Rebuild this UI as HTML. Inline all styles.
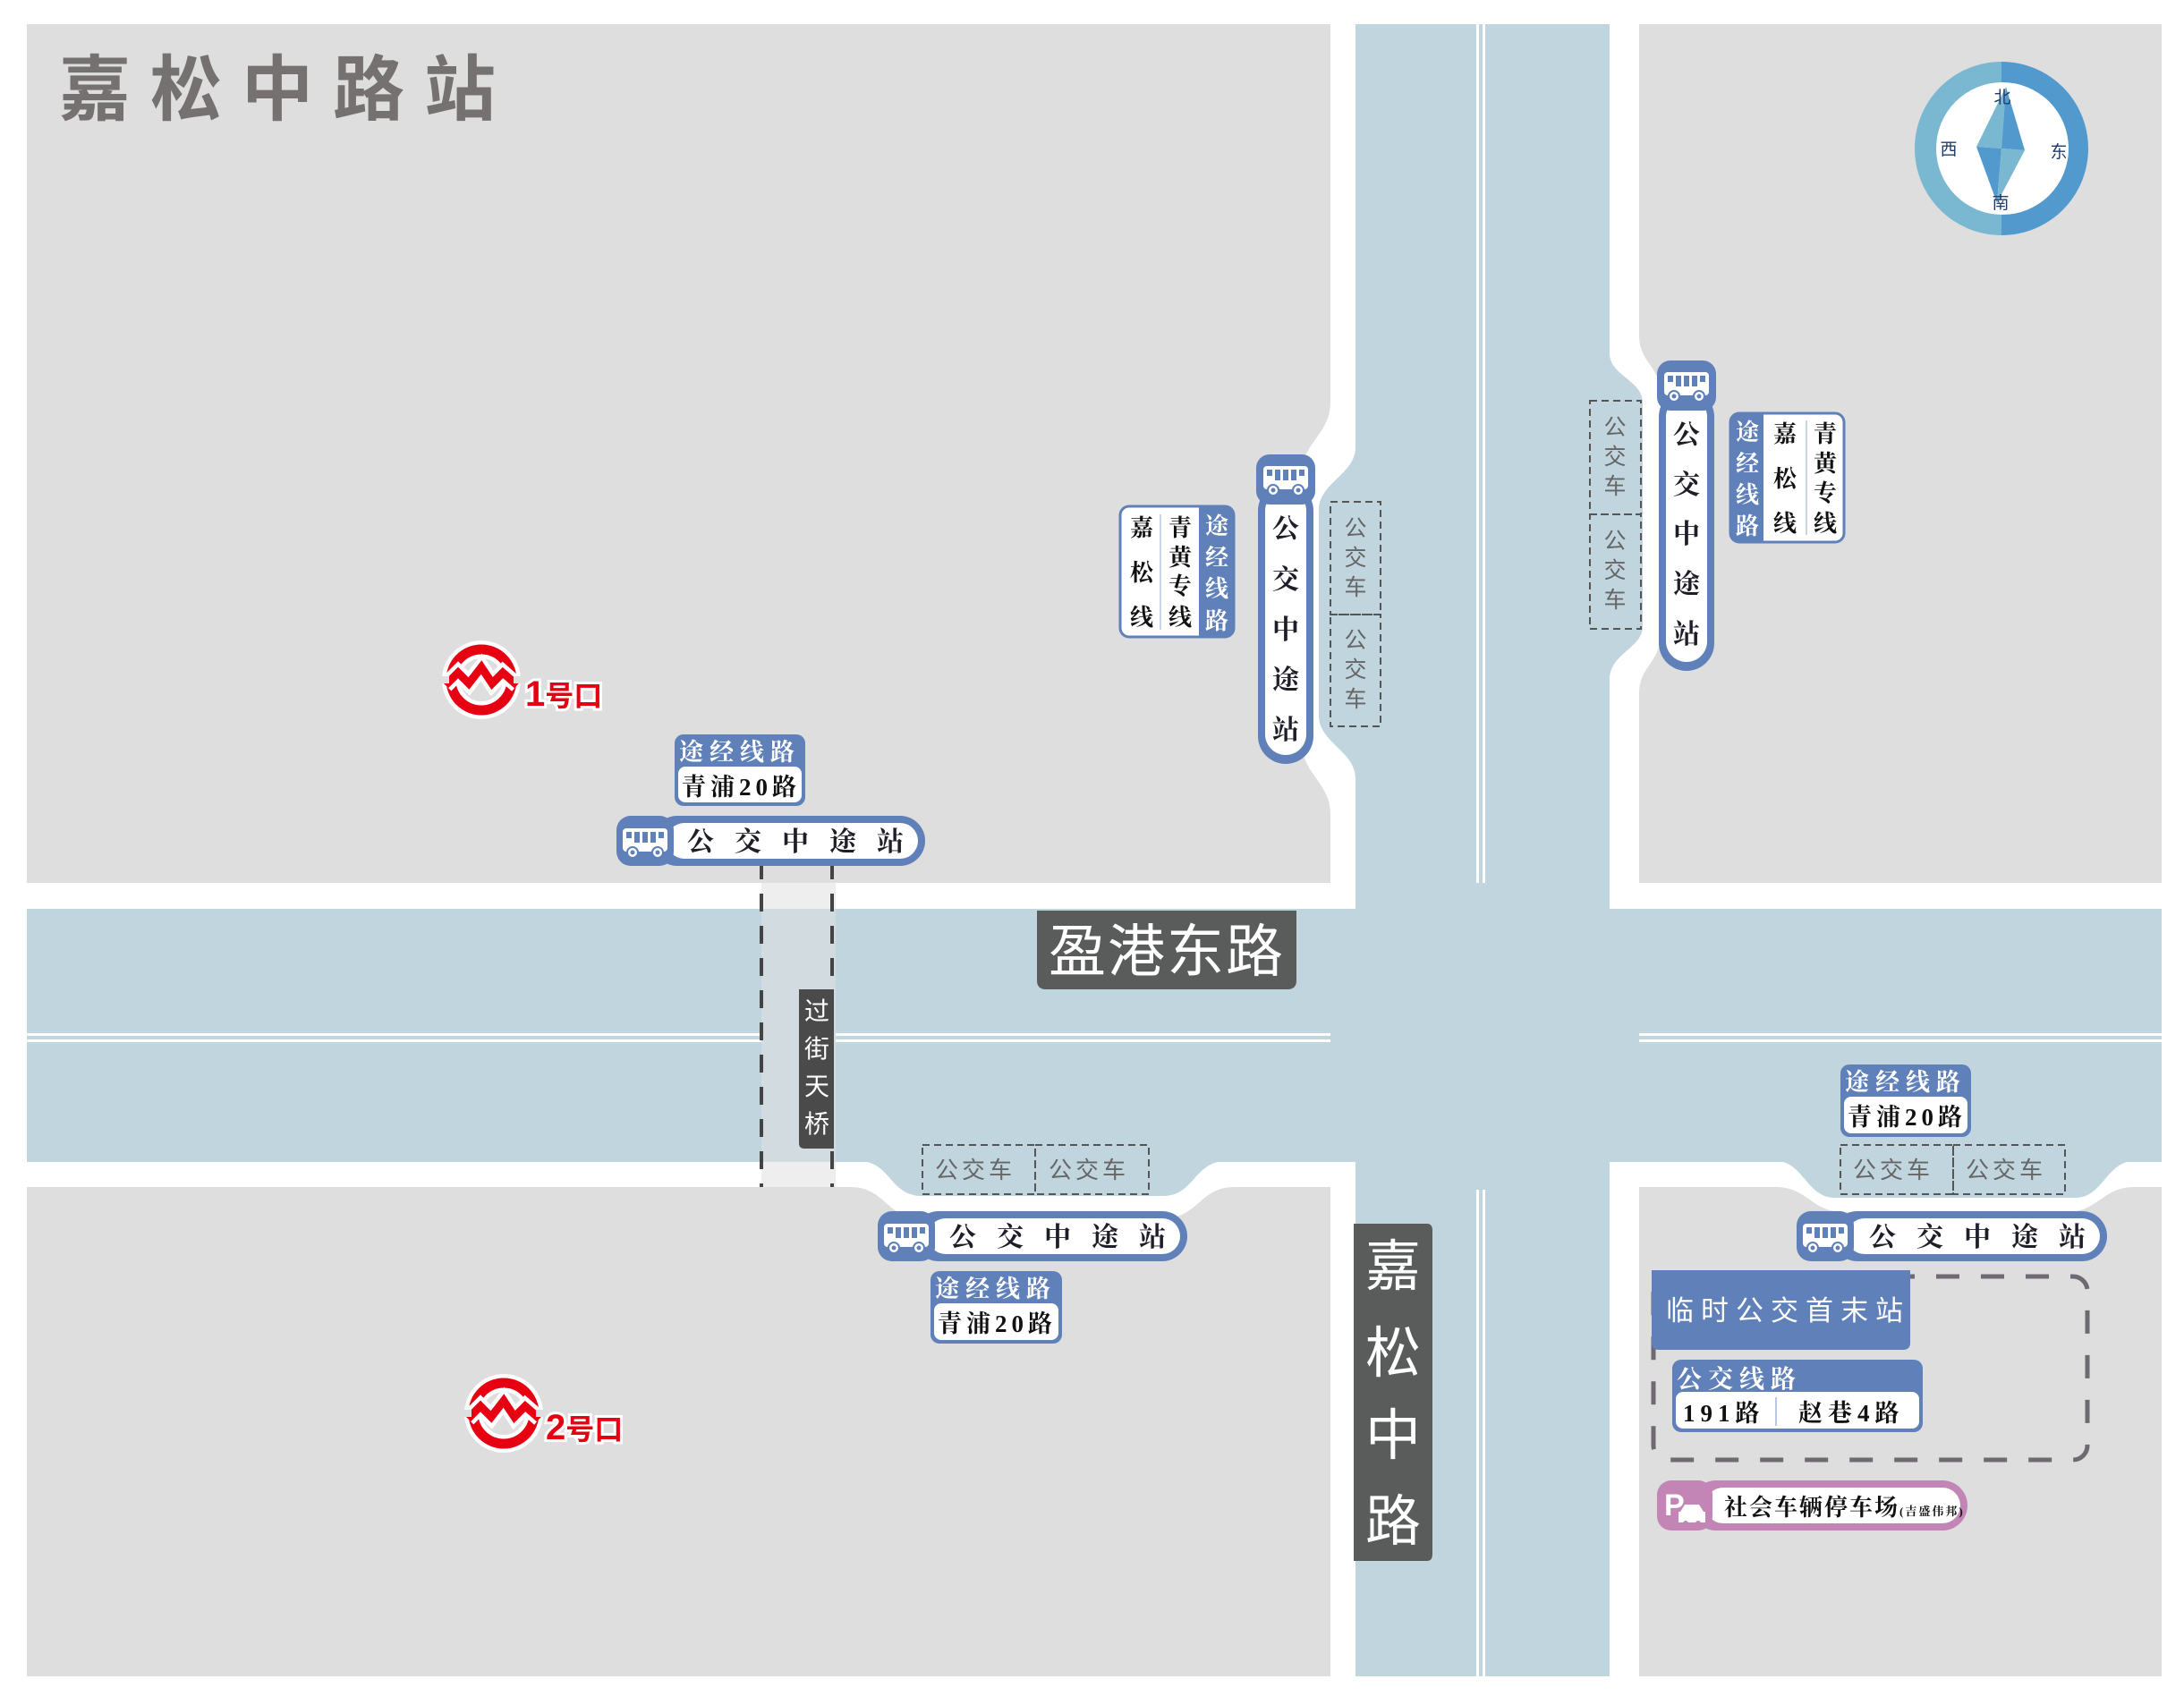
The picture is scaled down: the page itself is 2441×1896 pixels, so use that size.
<!DOCTYPE html>
<html><head><meta charset="utf-8">
<style>
html,body{margin:0;padding:0;background:#fff;}
svg{display:block;}
.sv{font-family:"Liberation Serif","Noto Serif CJK SC",serif;font-weight:bold;}
.ss{font-family:"Liberation Sans","Noto Sans CJK SC",sans-serif;}
</style></head>
<body>
<svg width="2441" height="1896" viewBox="0 0 2441 1896" xmlns="http://www.w3.org/2000/svg">
<defs>
<g id="bus">
 <rect x="0" y="0" width="50" height="26" rx="4" fill="#fff"/>
 <rect x="4" y="4" width="6" height="7" fill="#5f80b9"/>
 <rect x="13" y="4" width="6" height="12" fill="#5f80b9"/>
 <rect x="22" y="4" width="6" height="12" fill="#5f80b9"/>
 <rect x="31" y="4" width="6" height="12" fill="#5f80b9"/>
 <rect x="40" y="4" width="6" height="7" fill="#5f80b9"/>
 <circle cx="11" cy="27" r="6" fill="#fff" stroke="#5f80b9" stroke-width="2"/>
 <circle cx="39" cy="27" r="6" fill="#fff" stroke="#5f80b9" stroke-width="2"/>
 <circle cx="11" cy="27" r="2.5" fill="#5f80b9"/>
 <circle cx="39" cy="27" r="2.5" fill="#5f80b9"/>
</g>
<g id="metro">
 <circle cx="0" cy="0" r="34" fill="none" stroke="#fff" stroke-width="20"/>
 <circle cx="0" cy="0" r="34" fill="none" stroke="#e60012" stroke-width="11"/>
 <polyline points="-40,6 -26,-8 -14,4 0,-14 12,4 24,-8 40,6" fill="none" stroke="#fff" stroke-width="18" stroke-linejoin="miter"/>
 <polyline points="-40,6 -26,-8 -14,4 0,-14 12,4 24,-8 40,6" fill="none" stroke="#e60012" stroke-width="9" stroke-linejoin="miter"/>
 <rect x="-48" y="-4" width="12" height="8" fill="#dedede"/>
 <rect x="36" y="-4" width="12" height="8" fill="#dedede"/>
</g>
</defs>

<!-- gray blocks -->
<path d="M30,27 H1487 V450 C1487,485 1455,495 1455,530 V830 C1455,865 1487,875 1487,910 V987 H30 Z" fill="#dedede"/>
<path d="M1832,27 H2416 V987 H1832 V775 C1832,745 1856,740 1856,710 V440 C1856,410 1832,405 1832,375 Z" fill="#dedede"/>
<path d="M30,1327 H950 C990,1327 990,1362 1030,1362 H1300 C1340,1362 1340,1327 1380,1327 H1487 V1874 H30 Z" fill="#dedede"/>
<path d="M1832,1327 H1985 C2020,1327 2025,1355 2060,1355 H2310 C2345,1355 2350,1327 2385,1327 H2416 V1874 H1832 Z" fill="#dedede"/>

<!-- roads -->
<rect x="1515" y="27" width="284" height="1847" fill="#c0d5de"/>
<rect x="30" y="1016" width="2386" height="283" fill="#c0d5de"/>
<path d="M1515,500 C1515,530 1474,540 1474,570 V800 C1474,830 1515,840 1515,870 Z" fill="#c0d5de"/>
<path d="M1799,395 C1799,420 1836,425 1836,450 V700 C1836,725 1799,730 1799,760 Z" fill="#c0d5de"/>
<path d="M960,1298 C995,1298 995,1337 1030,1337 H1300 C1335,1337 1335,1298 1370,1298 Z" fill="#c0d5de"/>
<path d="M1985,1298 C2015,1298 2020,1339 2050,1339 H2320 C2350,1339 2355,1298 2385,1298 Z" fill="#c0d5de"/>

<!-- center lines -->
<rect x="1650" y="27" width="3" height="960" fill="#fff"/>
<rect x="1657" y="27" width="3" height="960" fill="#fff"/>
<rect x="1650" y="1330" width="3" height="544" fill="#fff"/>
<rect x="1657" y="1330" width="3" height="544" fill="#fff"/>
<rect x="30" y="1155" width="1457" height="3" fill="#fff"/>
<rect x="30" y="1162" width="1457" height="3" fill="#fff"/>
<rect x="1832" y="1155" width="584" height="3" fill="#fff"/>
<rect x="1832" y="1162" width="584" height="3" fill="#fff"/>

<!-- overpass -->
<rect x="851" y="987" width="83" height="340" fill="#eeeeee"/>
<rect x="851" y="1016" width="83" height="283" fill="#d1dbe0"/>
<line x1="851" y1="963" x2="851" y2="1327" stroke="#444" stroke-width="4" stroke-dasharray="20,16"/>
<line x1="930" y1="963" x2="930" y2="1327" stroke="#444" stroke-width="4" stroke-dasharray="20,16"/>
<path d="M893,1106 H932 V1284 H899 Q893,1284 893,1278 Z" fill="#4a4a4a"/>
<g class="ss" fill="#fff" font-size="28" text-anchor="middle">
<text x="913" y="1140">过</text><text x="913" y="1182">街</text><text x="913" y="1224">天</text><text x="913" y="1266">桥</text>
</g>

<!-- road name labels -->
<path d="M1159,1018 H1449 V1096 Q1449,1106 1439,1106 H1169 Q1159,1106 1159,1096 Z" fill="#5a5b5b"/>
<text x="1304" y="1086" class="ss" fill="#fff" font-size="64" text-anchor="middle" letter-spacing="2">盈港东路</text>
<path d="M1513,1368 H1595 Q1601,1368 1601,1376 V1737 Q1601,1745 1595,1745 H1513 Z" fill="#5a5b5b"/>
<g class="ss" fill="#fff" font-size="62" text-anchor="middle">
<text x="1557" y="1437">嘉</text><text x="1557" y="1534">松</text><text x="1557" y="1626">中</text><text x="1557" y="1722">路</text>
</g>

<!-- title -->
<text x="66" y="128" class="ss" font-weight="bold" fill="#757170" font-size="80" letter-spacing="22">嘉松中路站</text>

<!-- compass -->
<path d="M2237,69 A97,97 0 0 0 2237,263 Z" fill="#7ab8d2"/>
<path d="M2237,69 A97,97 0 0 1 2237,263 Z" fill="#529ace"/>
<circle cx="2238" cy="166" r="74" fill="#fff"/>
<polygon points="2242,97 2209,164 2237,166" fill="#7ab8d2"/>
<polygon points="2242,97 2263,168 2237,166" fill="#529ace"/>
<polygon points="2232,227 2209,164 2237,166" fill="#529ace"/>
<polygon points="2232,227 2263,168 2237,166" fill="#7ab8d2"/>
<g class="ss" fill="#1f3b6e" font-size="19" text-anchor="middle">
<text x="2238" y="115">北</text><text x="2178" y="173">西</text><text x="2301" y="176">东</text><text x="2236" y="233">南</text>
</g>

<!-- metro -->
<use href="#metro" x="538" y="760"/>
<text x="587" y="789" class="ss" font-weight="bold" font-size="40" fill="#e60012" stroke="#fff" stroke-width="6" paint-order="stroke">1<tspan font-size="32">号口</tspan></text>
<use href="#metro" x="563" y="1580"/>
<text x="610" y="1609" class="ss" font-weight="bold" font-size="40" fill="#e60012" stroke="#fff" stroke-width="6" paint-order="stroke">2<tspan font-size="32">号口</tspan></text>

<!-- horizontal bus stop 1 -->
<g>
<rect x="729" y="912" width="305" height="56" rx="28" fill="#5f80b9"/>
<rect x="745" y="920" width="281" height="40" rx="20" fill="#fff"/>
<rect x="689" y="912" width="64" height="56" rx="16" fill="#5f80b9"/>
<use href="#bus" x="696" y="926"/>
<text x="768" y="951" class="sv" font-size="30" fill="#1e1e28" letter-spacing="23">公交中途站</text>
</g>
<g>
<rect x="754" y="821" width="146" height="80" rx="10" fill="#5f80b9"/>
<rect x="758" y="857" width="138" height="40" rx="8" fill="#fff"/>
<text x="759" y="850" class="sv" font-size="27" fill="#fff" letter-spacing="7">途经线路</text>
<text x="762" y="889" class="sv" font-size="27" fill="#111" letter-spacing="5">青浦20路</text>
</g>

<!-- horizontal bus stop 2 -->
<g>
<rect x="1021" y="1354" width="306" height="56" rx="28" fill="#5f80b9"/>
<rect x="1037" y="1362" width="282" height="40" rx="20" fill="#fff"/>
<rect x="981" y="1354" width="64" height="56" rx="16" fill="#5f80b9"/>
<use href="#bus" x="988" y="1368"/>
<text x="1061" y="1393" class="sv" font-size="30" fill="#1e1e28" letter-spacing="23">公交中途站</text>
</g>
<g>
<rect x="1040" y="1421" width="147" height="81" rx="10" fill="#5f80b9"/>
<rect x="1044" y="1457" width="139" height="41" rx="8" fill="#fff"/>
<text x="1045" y="1450" class="sv" font-size="27" fill="#fff" letter-spacing="7">途经线路</text>
<text x="1048" y="1489" class="sv" font-size="27" fill="#111" letter-spacing="5">青浦20路</text>
</g>
<g fill="none" stroke="#555" stroke-width="2" stroke-dasharray="8,5">
<rect x="1031" y="1280" width="126" height="55"/><rect x="1157" y="1280" width="127" height="55"/>
</g>
<g class="ss" font-size="26" fill="#666" letter-spacing="4">
<text x="1045" y="1317">公交车</text><text x="1172" y="1317">公交车</text>
</g>

<!-- horizontal bus stop 3 -->
<g>
<rect x="2048" y="1354" width="307" height="56" rx="28" fill="#5f80b9"/>
<rect x="2064" y="1362" width="283" height="40" rx="20" fill="#fff"/>
<rect x="2008" y="1354" width="64" height="56" rx="16" fill="#5f80b9"/>
<use href="#bus" x="2015" y="1368"/>
<text x="2089" y="1393" class="sv" font-size="30" fill="#1e1e28" letter-spacing="23">公交中途站</text>
</g>
<g>
<rect x="2057" y="1190" width="146" height="81" rx="10" fill="#5f80b9"/>
<rect x="2061" y="1226" width="138" height="41" rx="8" fill="#fff"/>
<text x="2062" y="1219" class="sv" font-size="27" fill="#fff" letter-spacing="7">途经线路</text>
<text x="2065" y="1258" class="sv" font-size="27" fill="#111" letter-spacing="5">青浦20路</text>
</g>
<g fill="none" stroke="#555" stroke-width="2" stroke-dasharray="8,5">
<rect x="2057" y="1280" width="126" height="55"/><rect x="2183" y="1280" width="125" height="55"/>
</g>
<g class="ss" font-size="26" fill="#666" letter-spacing="4">
<text x="2071" y="1317">公交车</text><text x="2197" y="1317">公交车</text>
</g>

<!-- vertical bus stop A -->
<g>
<rect x="1406" y="540" width="62" height="314" rx="31" fill="#5f80b9"/>
<rect x="1414" y="548" width="46" height="296" rx="23" fill="#fff"/>
<rect x="1404" y="508" width="66" height="56" rx="15" fill="#5f80b9"/>
<use href="#bus" x="1412" y="521"/>
<g class="sv" font-size="30" fill="#1e1e28" text-anchor="middle">
<text x="1437" y="601">公</text><text x="1437" y="658">交</text><text x="1437" y="714">中</text><text x="1437" y="770">途</text><text x="1437" y="826">站</text>
</g>
</g>
<g>
<rect x="1252" y="566" width="127" height="146" rx="10" fill="#fff" stroke="#5f80b9" stroke-width="3"/>
<path d="M1340,566 H1369 Q1379,566 1379,576 V702 Q1379,712 1369,712 H1340 Z" fill="#5f80b9"/>
<line x1="1297" y1="575" x2="1297" y2="704" stroke="#b8c6e0" stroke-width="1.5"/>
<g class="sv" font-size="26" text-anchor="middle" fill="#111">
<text x="1276" y="599">嘉</text><text x="1276" y="649">松</text><text x="1276" y="699">线</text>
<text x="1319" y="599">青</text><text x="1319" y="632">黄</text><text x="1319" y="664">专</text><text x="1319" y="699">线</text>
</g>
<g class="sv" font-size="26" text-anchor="middle" fill="#fff">
<text x="1360" y="597">途</text><text x="1360" y="632">经</text><text x="1360" y="667">线</text><text x="1360" y="703">路</text>
</g>
</g>
<g fill="none" stroke="#555" stroke-width="2" stroke-dasharray="8,5">
<rect x="1487" y="561" width="56" height="126"/><rect x="1487" y="687" width="56" height="125"/>
</g>
<g class="ss" font-size="25" fill="#666" text-anchor="middle">
<text x="1515" y="599">公</text><text x="1515" y="632">交</text><text x="1515" y="665">车</text>
<text x="1515" y="724">公</text><text x="1515" y="757">交</text><text x="1515" y="790">车</text>
</g>

<!-- vertical bus stop B -->
<g>
<rect x="1854" y="435" width="62" height="315" rx="31" fill="#5f80b9"/>
<rect x="1862" y="443" width="46" height="297" rx="23" fill="#fff"/>
<rect x="1852" y="403" width="66" height="56" rx="15" fill="#5f80b9"/>
<use href="#bus" x="1860" y="416"/>
<g class="sv" font-size="30" fill="#1e1e28" text-anchor="middle">
<text x="1885" y="496">公</text><text x="1885" y="552">交</text><text x="1885" y="607">中</text><text x="1885" y="663">途</text><text x="1885" y="719">站</text>
</g>
</g>
<g>
<rect x="1934" y="462" width="127" height="144" rx="10" fill="#fff" stroke="#5f80b9" stroke-width="3"/>
<path d="M1944,462 H1971 V606 H1944 Q1934,606 1934,596 V472 Q1934,462 1944,462 Z" fill="#5f80b9"/>
<line x1="2019" y1="470" x2="2019" y2="598" stroke="#b8c6e0" stroke-width="1.5"/>
<g class="sv" font-size="26" text-anchor="middle" fill="#fff">
<text x="1953" y="492">途</text><text x="1953" y="527">经</text><text x="1953" y="562">线</text><text x="1953" y="597">路</text>
</g>
<g class="sv" font-size="26" text-anchor="middle" fill="#111">
<text x="1995" y="494">嘉</text><text x="1995" y="544">松</text><text x="1995" y="594">线</text>
<text x="2040" y="494">青</text><text x="2040" y="527">黄</text><text x="2040" y="560">专</text><text x="2040" y="594">线</text>
</g>
</g>
<g fill="none" stroke="#555" stroke-width="2" stroke-dasharray="8,5">
<rect x="1777" y="448" width="57" height="127"/><rect x="1777" y="575" width="57" height="128"/>
</g>
<g class="ss" font-size="25" fill="#666" text-anchor="middle">
<text x="1805" y="486">公</text><text x="1805" y="519">交</text><text x="1805" y="552">车</text>
<text x="1805" y="613">公</text><text x="1805" y="646">交</text><text x="1805" y="679">车</text>
</g>

<!-- temporary terminal -->
<rect x="1848" y="1427" width="485" height="205" rx="16" fill="none" stroke="#6f6a72" stroke-width="5" stroke-dasharray="26,24"/>
<path d="M1846,1420 H2135 V1501 Q2135,1509 2127,1509 H1854 Q1846,1509 1846,1501 Z" fill="#5f80b9"/>
<text x="1862" y="1476" class="ss" font-size="31" fill="#fff" letter-spacing="8">临时公交首末站</text>
<rect x="1869" y="1520" width="280" height="81" rx="10" fill="#5f80b9"/>
<rect x="1873" y="1556" width="272" height="41" rx="8" fill="#fff"/>
<text x="1874" y="1551" class="sv" font-size="28" fill="#fff" letter-spacing="7">公交线路</text>
<line x1="1985" y1="1562" x2="1985" y2="1594" stroke="#b8c6e0" stroke-width="2"/>
<text x="1881" y="1589" class="sv" font-size="27" fill="#111" letter-spacing="6">191路</text>
<text x="2010" y="1589" class="sv" font-size="27" fill="#111" letter-spacing="6">赵巷4路</text>

<!-- parking -->
<rect x="1890" y="1655" width="309" height="56" rx="28" fill="#c285b5"/>
<rect x="1906" y="1663" width="285" height="40" rx="20" fill="#fff"/>
<rect x="1852" y="1655" width="62" height="56" rx="16" fill="#c285b5"/>
<text x="1860" y="1694" class="ss" font-weight="bold" font-size="34" fill="#fff">P</text>
<path d="M1878,1690 l5,-8 h16 l5,8 h2 v12 h-30 v-12 z" fill="#fff"/>
<circle cx="1884" cy="1703" r="3" fill="#c285b5"/><circle cx="1898" cy="1703" r="3" fill="#c285b5"/>
<text x="1927" y="1694" class="sv" font-size="26" fill="#111" letter-spacing="2">社会车辆停车场<tspan font-size="13">(吉盛伟邦)</tspan></text>
</svg>
</body></html>
